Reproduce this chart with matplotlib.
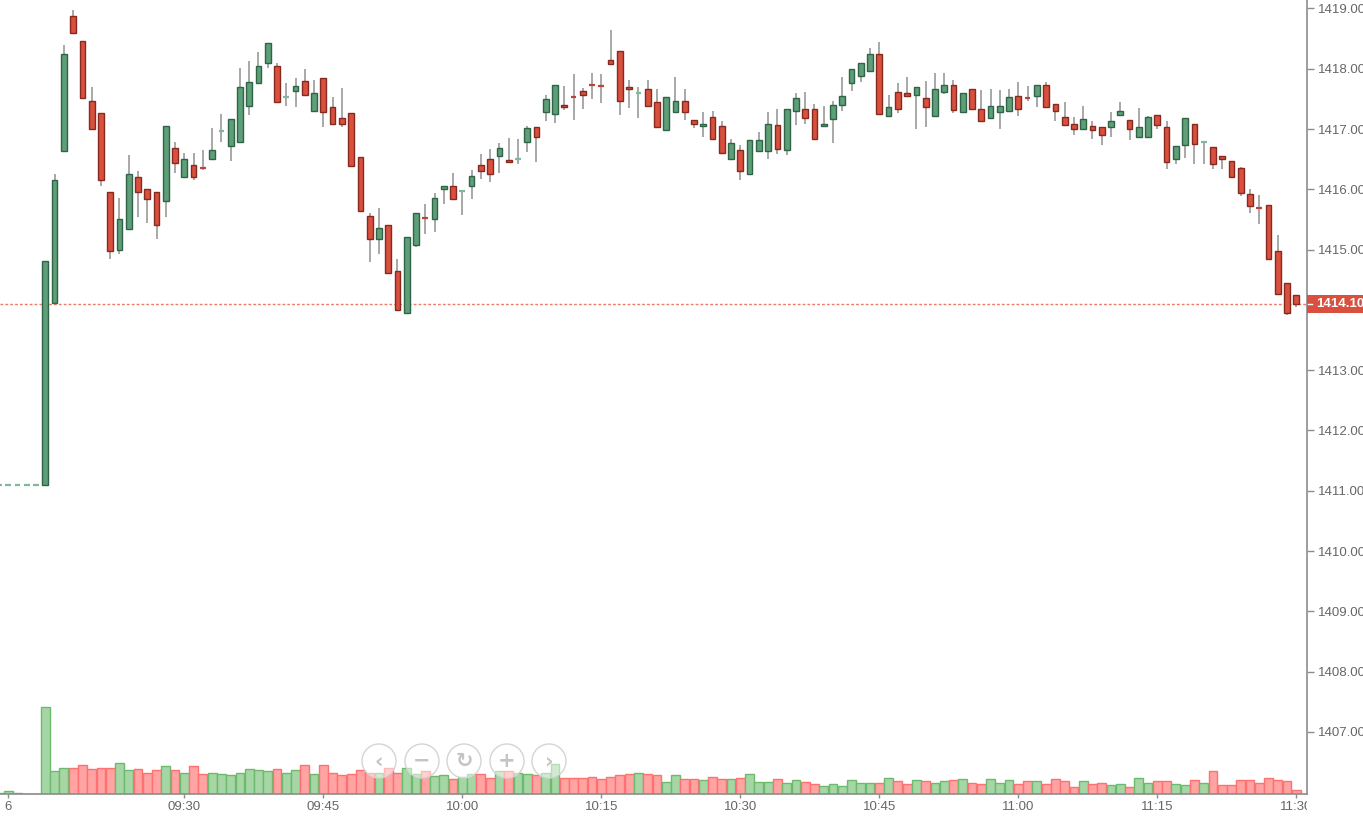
import numpy as np
import matplotlib
matplotlib.use("Agg")
import matplotlib.pyplot as plt
from matplotlib.patches import Rectangle, Circle
from matplotlib.transforms import Bbox, TransformedBbox

plt.rcParams['font.family'] = ['Liberation Sans', 'DejaVu Sans']

# bar index -5 .. 135 (1 minute bars, 09:15 = 0)
idx = list(range(-5, 136))

opens = [1411.10, 1411.10, 1411.10, 1411.10, 1411.10,
         1411.10, 1414.12, 1416.63, 1418.88, 1418.46, 1417.47, 1417.26, 1415.95, 1415.00, 1415.34,
         1416.20, 1416.00, 1415.95, 1415.80, 1416.68, 1416.20, 1416.41, 1416.37, 1416.51, 1416.96,
         1416.72, 1416.78, 1417.38, 1417.76, 1418.10, 1418.05, 1417.52, 1417.63, 1417.80, 1417.30,
         1417.84, 1417.36, 1417.18, 1417.26, 1416.54, 1415.56, 1415.18, 1415.41, 1414.65, 1413.95,
         1415.07, 1415.54, 1415.51, 1416.01, 1416.05, 1415.97, 1416.05, 1416.41, 1416.50, 1416.55,
         1416.49, 1416.48, 1416.78, 1417.03, 1417.29, 1417.25, 1417.40, 1417.54, 1417.63, 1417.74,
         1417.72, 1418.15, 1418.30, 1417.70, 1417.58, 1417.67, 1417.45, 1416.99, 1417.28, 1417.47,
         1417.15, 1417.05, 1417.20, 1417.05, 1416.51, 1416.66, 1416.26, 1416.63, 1416.63, 1417.07,
         1416.65, 1417.30, 1417.34, 1417.34, 1417.05, 1417.17, 1417.40, 1417.76, 1417.88, 1417.96,
         1418.25, 1417.21, 1417.61, 1417.59, 1417.56, 1417.51, 1417.21, 1417.61, 1417.73, 1417.28,
         1417.67, 1417.33, 1417.19, 1417.28, 1417.30, 1417.55, 1417.53, 1417.55, 1417.73, 1417.42,
         1417.20, 1417.09, 1417.00, 1417.05, 1417.03, 1417.04, 1417.23, 1417.15, 1416.86, 1416.86,
         1417.24, 1417.03, 1416.51, 1416.73, 1417.09, 1416.77, 1416.70, 1416.56, 1416.47, 1416.35,
         1415.93, 1415.70, 1415.74, 1414.98, 1414.44, 1414.25]
highs = [1411.10, 1411.10, 1411.10, 1411.10, 1411.10,
         1414.81, 1416.25, 1418.39, 1418.97, 1418.46, 1417.70, 1417.26, 1415.95, 1415.85, 1416.57,
         1416.31, 1416.00, 1415.95, 1417.05, 1416.79, 1416.60, 1416.60, 1416.66, 1417.01, 1417.25,
         1417.16, 1418.01, 1418.13, 1418.28, 1418.42, 1418.10, 1417.76, 1417.84, 1417.99, 1417.82,
         1417.84, 1417.53, 1417.68, 1417.26, 1416.54, 1415.61, 1415.69, 1415.41, 1414.84, 1415.21,
         1415.61, 1415.76, 1415.94, 1416.05, 1416.27, 1415.99, 1416.32, 1416.58, 1416.67, 1416.76,
         1416.85, 1416.83, 1417.05, 1417.03, 1417.57, 1417.73, 1417.72, 1417.91, 1417.68, 1417.93,
         1417.91, 1418.65, 1418.30, 1417.81, 1417.70, 1417.82, 1417.67, 1417.53, 1417.86, 1417.67,
         1417.15, 1417.28, 1417.30, 1417.14, 1416.83, 1416.73, 1416.82, 1416.95, 1417.28, 1417.34,
         1417.34, 1417.60, 1417.62, 1417.41, 1417.38, 1417.47, 1417.86, 1418.00, 1418.09, 1418.34,
         1418.44, 1417.57, 1417.76, 1417.86, 1417.69, 1417.80, 1417.93, 1417.93, 1417.81, 1417.59,
         1417.67, 1417.64, 1417.67, 1417.64, 1417.66, 1417.78, 1417.72, 1417.73, 1417.78, 1417.42,
         1417.45, 1417.20, 1417.39, 1417.14, 1417.03, 1417.28, 1417.45, 1417.15, 1417.35, 1417.22,
         1417.24, 1417.14, 1416.72, 1417.18, 1417.09, 1416.79, 1416.70, 1416.56, 1416.47, 1416.37,
         1416.01, 1415.91, 1415.74, 1415.25, 1414.44, 1414.25]
lows = [1411.10, 1411.10, 1411.10, 1411.10, 1411.10,
        1411.10, 1414.12, 1416.63, 1418.57, 1417.52, 1417.00, 1416.05, 1414.85, 1414.93, 1415.34,
        1415.54, 1415.44, 1415.17, 1415.54, 1416.27, 1416.20, 1416.15, 1416.32, 1416.51, 1416.79,
        1416.47, 1416.78, 1417.23, 1417.76, 1418.01, 1417.44, 1417.39, 1417.36, 1417.56, 1417.30,
        1417.03, 1417.09, 1417.03, 1416.38, 1415.64, 1414.80, 1414.93, 1414.62, 1414.00, 1413.95,
        1415.05, 1415.26, 1415.30, 1415.76, 1415.84, 1415.57, 1415.84, 1416.17, 1416.12, 1416.27,
        1416.45, 1416.42, 1416.62, 1416.46, 1417.13, 1417.10, 1417.31, 1417.15, 1417.33, 1417.50,
        1417.43, 1418.08, 1417.23, 1417.35, 1417.19, 1417.38, 1417.03, 1416.99, 1417.28, 1417.15,
        1417.02, 1416.86, 1416.84, 1416.61, 1416.51, 1416.15, 1416.26, 1416.63, 1416.51, 1416.58,
        1416.57, 1417.06, 1417.09, 1416.84, 1417.05, 1416.77, 1417.30, 1417.63, 1417.78, 1417.96,
        1417.25, 1417.21, 1417.27, 1417.54, 1417.00, 1417.04, 1417.21, 1417.58, 1417.27, 1417.28,
        1417.33, 1417.13, 1417.17, 1417.00, 1417.30, 1417.21, 1417.46, 1417.37, 1417.36, 1417.13,
        1417.06, 1416.90, 1417.00, 1416.84, 1416.73, 1416.86, 1417.23, 1416.82, 1416.86, 1416.86,
        1417.00, 1416.34, 1416.42, 1416.52, 1416.42, 1416.42, 1416.34, 1416.34, 1416.21, 1415.89,
        1415.61, 1415.43, 1414.85, 1414.27, 1413.91, 1414.04]
closes = [1411.10, 1411.10, 1411.10, 1411.10, 1411.10,
          1414.81, 1416.16, 1418.25, 1418.60, 1417.52, 1417.00, 1416.15, 1414.97, 1415.50, 1416.26,
          1415.95, 1415.84, 1415.41, 1417.05, 1416.44, 1416.51, 1416.20, 1416.35, 1416.66, 1416.98,
          1417.16, 1417.69, 1417.78, 1418.05, 1418.42, 1417.44, 1417.54, 1417.72, 1417.56, 1417.59,
          1417.28, 1417.09, 1417.09, 1416.38, 1415.64, 1415.18, 1415.35, 1414.62, 1414.00, 1415.21,
          1415.61, 1415.52, 1415.85, 1416.05, 1415.84, 1415.99, 1416.22, 1416.30, 1416.26, 1416.68,
          1416.45, 1416.51, 1417.01, 1416.86, 1417.49, 1417.73, 1417.37, 1417.52, 1417.56, 1417.72,
          1417.70, 1418.08, 1417.46, 1417.66, 1417.60, 1417.38, 1417.03, 1417.53, 1417.47, 1417.28,
          1417.09, 1417.09, 1416.84, 1416.61, 1416.76, 1416.30, 1416.82, 1416.82, 1417.09, 1416.67,
          1417.34, 1417.51, 1417.19, 1416.84, 1417.09, 1417.40, 1417.55, 1418.00, 1418.09, 1418.25,
          1417.25, 1417.36, 1417.33, 1417.54, 1417.69, 1417.37, 1417.67, 1417.73, 1417.31, 1417.59,
          1417.33, 1417.13, 1417.38, 1417.38, 1417.53, 1417.33, 1417.50, 1417.73, 1417.36, 1417.30,
          1417.06, 1417.00, 1417.16, 1416.98, 1416.90, 1417.14, 1417.30, 1417.00, 1417.03, 1417.20,
          1417.07, 1416.46, 1416.72, 1417.18, 1416.75, 1416.79, 1416.42, 1416.51, 1416.21, 1415.94,
          1415.72, 1415.68, 1414.85, 1414.27, 1413.95, 1414.10]
volumes = [1.5, 3, 1.5, 0, 0,
           86.7, 22.7, 26.3, 26.3, 29, 25.3, 26.3, 26.3, 31.3, 24,
           25, 21.3, 24, 27.7, 24, 21.3, 27.7, 20, 21.3, 20,
           19, 21.3, 25, 24, 22.7, 25, 21.3, 24, 29, 20,
           29, 21.3, 19, 20, 24, 21.3, 21.3, 26.3, 21.3, 26.3,
           20, 22.7, 17.7, 18.7, 15, 17.3, 20, 20, 16, 22.7,
           22.7, 21.3, 20, 18.7, 21.3, 30, 16, 16, 16, 17.3,
           15, 17.3, 18.7, 20, 21.3, 20, 18.7, 12.3, 18.7, 15,
           15, 13.7, 17.3, 15, 15, 16, 20, 12.3, 12.3, 15,
           11, 13.7, 12.3, 9.7, 8.3, 9.7, 8.3, 13.7, 11, 11,
           11, 16, 12.7, 10, 13.7, 12.7, 11, 12.7, 13.7, 15,
           11.3, 10, 15, 11, 13.7, 10, 12.7, 12.7, 10, 15,
           12.7, 7.3, 12.7, 10, 11.3, 8.7, 10, 7.3, 16, 11,
           12.7, 12.7, 10, 8.7, 13.7, 11, 22.7, 8.7, 8.7, 13.7,
           13.7, 11, 16, 13.7, 12.7, 3.7]

tick_pos = [-4, 15, 30, 45, 60, 75, 90, 105, 120, 135]
tick_labels = ["6", "09:30", "09:45", "10:00", "10:15", "10:30", "10:45", "11:00", "11:15", "11:30"]
price_ticks = list(range(1407, 1420))
last_price = 1414.10

up_face, up_edge = '#5e9e78', '#2f6546'
dn_face, dn_edge = '#d9503f', '#862a1f'
vol_up, vol_up_edge = '#a6d6a6', '#6cbb6c'
vol_dn, vol_dn_edge = '#ffa3a3', '#ff7070'
grey = '#666666'

W, H = 1363, 818
fig = plt.figure(figsize=(W / 100, H / 100), dpi=100)
fig.patch.set_facecolor('white')
rect = [0, 24 / H, 1307 / W, 794 / H]

# volume pane, underneath the candles
axv = fig.add_axes(rect, zorder=0)
ax = fig.add_axes(rect, zorder=1, sharex=axv)
ax.patch.set_visible(False)

up = [c >= o for o, c in zip(opens, closes)]
axv.bar(idx, volumes, width=0.95,
        color=[vol_up if u else vol_dn for u in up],
        edgecolor=[vol_up_edge if u else vol_dn_edge for u in up], linewidth=1)
axv.set_ylim(0, max(volumes) * 794 / 86.7)
axv.axis('off')

bw = 0.62
for x, o, h, l, c, u in zip(idx, opens, highs, lows, closes, up):
    ax.vlines(x, l, h, color='#9a9a9a', linewidth=1.2, zorder=1)
    fc, ec = (up_face, up_edge) if u else (dn_face, dn_edge)
    if abs(c - o) < 0.03:
        col = '#7fb89a' if u else '#b8453a'
        ax.hlines((o + c) / 2, x - bw / 2, x + bw / 2, color=col, linewidth=1.6, zorder=2)
    else:
        ax.add_patch(Rectangle((x - bw / 2, min(o, c)), bw, abs(c - o),
                               facecolor=fc, edgecolor=ec, linewidth=1, zorder=2))

ax.axhline(last_price, color='#ef7a68', linestyle=(0, (2, 1.5)), linewidth=1, zorder=0)

ax.set_xlim(-4.89, 136.15)
ax.set_ylim(1405.97, 1419.14)

for s in ['left', 'top']:
    ax.spines[s].set_visible(False)
for s in ['right', 'bottom']:
    ax.spines[s].set_color('#8c8c8c')
    ax.spines[s].set_linewidth(1.2)

ax.yaxis.tick_right()
ax.set_yticks(price_ticks)
# the tick under the last-price marker is hidden by it
ax.set_yticklabels(["" if abs(p - last_price) < 0.3 else f"{p:.2f}" for p in price_ticks])
ax.tick_params(axis='y', direction='out', length=5, width=1, color='#8c8c8c',
               labelcolor=grey, labelsize=9.5, pad=3)
ax.set_xticks(tick_pos)
ax.set_xticklabels(tick_labels)
ax.tick_params(axis='x', direction='out', length=3, width=1, color='#8c8c8c',
               labelcolor=grey, labelsize=9.5, pad=2)
clip = TransformedBbox(Bbox([[-1, -1], [1, 2]]), ax.transAxes)
for lab in ax.get_xticklabels():
    lab.set_clip_box(clip)
    lab.set_clip_on(True)

# overlay in figure pixels: last price marker and navigation buttons
axb = fig.add_axes([0, 0, 1, 1], zorder=3)
axb.set_xlim(0, W)
axb.set_ylim(H, 0)
axb.axis('off')

y_last = H - ax.transData.transform((0, last_price))[1]
axb.add_patch(Rectangle((1307, y_last - 9), W - 1307, 18, facecolor='#d9503f', edgecolor='none'))
axb.plot([1308, 1312], [y_last, y_last], color='white', linewidth=1)
axb.text(1316, y_last, f"{last_price:.2f}", color='white', fontsize=9.5,
         fontweight='bold', va='center', ha='left', clip_on=False)

for bx, sym in zip([379, 422, 464, 507, 549], ['‹', '−', '↻', '+', '›']):
    axb.add_patch(Circle((bx, 761), 17, facecolor='white', alpha=0.5, edgecolor='none'))
    axb.add_patch(Circle((bx, 761), 17, facecolor='none', edgecolor='#d4d4d4', linewidth=1))
    axb.text(bx, 761, sym, ha='center', va='center', fontsize=15, color='#c4c4c4',
             family=['DejaVu Sans'], fontweight='bold')

fig.savefig('out.png', dpi=100)
